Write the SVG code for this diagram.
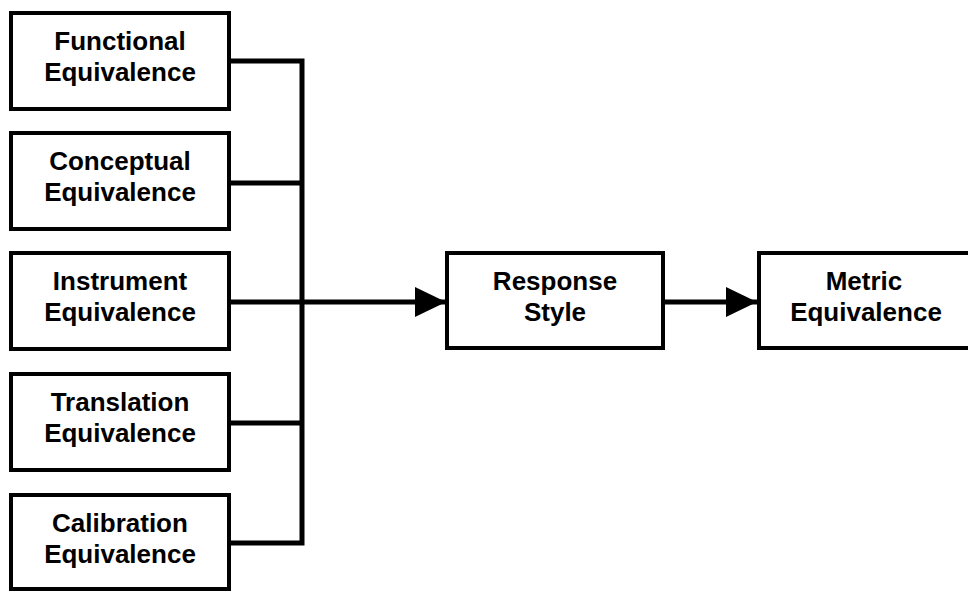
<svg xmlns="http://www.w3.org/2000/svg" width="968" height="591" viewBox="0 0 968 591">
<style>
.box{fill:#fff;stroke:#000;stroke-width:4}
.lbl{font-family:"Liberation Sans",Arial,sans-serif;font-weight:bold;font-size:26px;fill:#000;text-anchor:middle}
.con{fill:none;stroke:#000;stroke-width:5}
</style>
<defs>
<marker id="ah" markerUnits="userSpaceOnUse" markerWidth="32" markerHeight="32" refX="31" refY="15" orient="auto">
<path d="M0,0 L31,15 L0,30 Z" fill="#000"/>
</marker>
</defs>
<rect width="968" height="591" fill="#fff"/>
<g id="connectors">
<path class="con" d="M229,61 H302 V543 H229"/>
<path class="con" d="M229,183 H302"/>
<path class="con" d="M229,423 H302"/>
<path class="con" d="M229,302 H446" marker-end="url(#ah)"/>
<path class="con" d="M663,302 H757" marker-end="url(#ah)"/>
</g>
<g id="functional">
<rect class="box" x="11" y="13" width="218" height="96"/>
<text class="lbl" x="120" y="50">Functional</text>
<text class="lbl" x="120" y="81">Equivalence</text>
</g>
<g id="conceptual">
<rect class="box" x="11" y="133" width="218" height="96"/>
<text class="lbl" x="120" y="170">Conceptual</text>
<text class="lbl" x="120" y="201">Equivalence</text>
</g>
<g id="instrument">
<rect class="box" x="11" y="253" width="218" height="96"/>
<text class="lbl" x="120" y="290">Instrument</text>
<text class="lbl" x="120" y="321">Equivalence</text>
</g>
<g id="translation">
<rect class="box" x="11" y="374" width="218" height="96"/>
<text class="lbl" x="120" y="411">Translation</text>
<text class="lbl" x="120" y="442">Equivalence</text>
</g>
<g id="calibration">
<rect class="box" x="11" y="495" width="218" height="94"/>
<text class="lbl" x="120" y="532">Calibration</text>
<text class="lbl" x="120" y="563">Equivalence</text>
</g>
<g id="response">
<rect class="box" x="447" y="253" width="216" height="95"/>
<text class="lbl" x="555" y="290">Response</text>
<text class="lbl" x="555" y="321">Style</text>
</g>
<g id="metric">
<rect class="box" x="759" y="253" width="218" height="95"/>
<text class="lbl" x="864" y="290">Metric</text>
<text class="lbl" x="866" y="321">Equivalence</text>
</g>
</svg>
